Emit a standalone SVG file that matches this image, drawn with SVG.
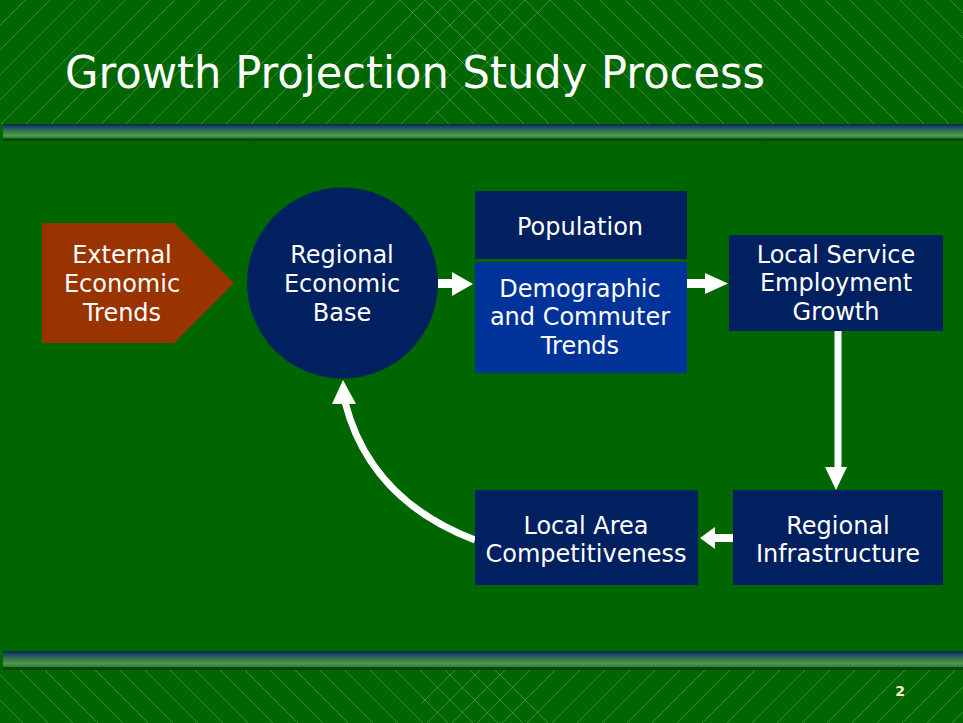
<svg xmlns="http://www.w3.org/2000/svg" width="963" height="723" viewBox="0 0 963 723">
<defs>
<style>
.lbl{font-family:"DejaVu Sans","Liberation Sans",sans-serif;font-size:24px;fill:#ffffff;text-anchor:middle}
.hatch{stroke:#ffffff;stroke-opacity:0.24;stroke-width:1;fill:none}
.navy{fill:#002060}
.conn{fill:#ffffff;stroke:none}
</style>
<linearGradient id="band" x1="0" y1="0" x2="0" y2="1">
<stop offset="0" stop-color="#0b2748"/>
<stop offset="0.18" stop-color="#1d4a66"/>
<stop offset="0.45" stop-color="#3a7a4c"/>
<stop offset="0.68" stop-color="#4a9a4a"/>
<stop offset="0.84" stop-color="#2f7a30"/>
<stop offset="0.86" stop-color="#0a480a"/>
<stop offset="1" stop-color="#004400"/>
</linearGradient>
<clipPath id="cTL"><polygon points="0,0 553,0 430,124 0,124"/></clipPath>
<clipPath id="cTR"><polygon points="400,0 963,0 963,124 440,124"/></clipPath>
<clipPath id="cBL"><polygon points="0,670 520,670 553,723 0,723"/></clipPath>
<clipPath id="cBR"><polygon points="430,670 963,670 963,723 417,723"/></clipPath>
<pattern id="pSlash" patternUnits="userSpaceOnUse" width="25" height="25">
<path d="M-2,27 L27,-2" class="hatch"/>
</pattern>
<pattern id="pBack" patternUnits="userSpaceOnUse" width="25" height="25">
<path d="M-2,-2 L27,27" class="hatch"/>
</pattern>
</defs>

<rect x="0" y="0" width="963" height="723" fill="#006600"/>

<g id="background-hatch">
<rect x="0" y="0" width="963" height="124" fill="url(#pSlash)" clip-path="url(#cTL)"/>
<rect x="0" y="0" width="963" height="124" fill="url(#pBack)" clip-path="url(#cTR)"/>
<rect x="0" y="670" width="963" height="53" fill="url(#pBack)" clip-path="url(#cBL)"/>
<rect x="0" y="670" width="963" height="53" fill="url(#pSlash)" clip-path="url(#cBR)"/>
</g>

<rect x="3" y="124" width="960" height="17" fill="url(#band)"/>
<rect x="3" y="651" width="960" height="19" fill="url(#band)"/>

<text x="65" y="88" font-family="'DejaVu Sans','Liberation Sans',sans-serif" font-size="44" fill="#ffffff" textLength="700" lengthAdjust="spacingAndGlyphs">Growth  Projection  Study  Process</text>

<text x="900" y="696" font-family="'DejaVu Sans','Liberation Sans',sans-serif" font-size="14" font-weight="bold" fill="#f4f0d0" text-anchor="middle">2</text>

<g id="connectors">
<polygon class="conn" points="438,279 452,279 452,272 473,284 452,296 452,288 438,288"/>
<polygon class="conn" points="687,279 705,279 705,273 728,283.5 705,294 705,288 687,288"/>
<polygon class="conn" points="834.5,331 841.5,331 841.5,467 847,467 836,490 825,467 834.5,467"/>
<polygon class="conn" points="733,534 715,534 715,527 700,538 715,549 715,542 733,542"/>
<path d="M475,540 Q370,500 345,402" stroke="#ffffff" stroke-width="7" fill="none"/>
<polygon class="conn" points="343,380 356,404 332,404"/>
</g>

<g id="external-economic-trends">
<polygon points="42,223 174,223 234,283 174,343 42,343" fill="#993300"/>
<text class="lbl" x="122" y="263">External</text>
<text class="lbl" x="122" y="292">Economic</text>
<text class="lbl" x="122" y="321">Trends</text>
</g>

<g id="regional-economic-base">
<circle cx="342.5" cy="283" r="95.5" class="navy"/>
<text class="lbl" x="342" y="263">Regional</text>
<text class="lbl" x="342" y="292">Economic</text>
<text class="lbl" x="342" y="321">Base</text>
</g>

<g id="population">
<rect x="475" y="191" width="212" height="68" class="navy"/>
<text class="lbl" x="580" y="235">Population</text>
</g>

<g id="demographic-commuter-trends">
<rect x="475" y="262" width="212" height="111" fill="#003399"/>
<text class="lbl" x="580" y="297">Demographic</text>
<text class="lbl" x="580" y="325">and Commuter</text>
<text class="lbl" x="580" y="354">Trends</text>
</g>

<g id="local-service-employment-growth">
<rect x="729" y="235" width="214" height="96" class="navy"/>
<text class="lbl" x="836" y="263">Local Service</text>
<text class="lbl" x="836" y="291">Employment</text>
<text class="lbl" x="836" y="320">Growth</text>
</g>

<g id="regional-infrastructure">
<rect x="733" y="490" width="210" height="95" class="navy"/>
<text class="lbl" x="838" y="534">Regional</text>
<text class="lbl" x="838" y="562">Infrastructure</text>
</g>

<g id="local-area-competitiveness">
<rect x="475" y="490" width="223" height="95" class="navy"/>
<text class="lbl" x="586" y="534">Local Area</text>
<text class="lbl" x="586" y="562">Competitiveness</text>
</g>
</svg>
